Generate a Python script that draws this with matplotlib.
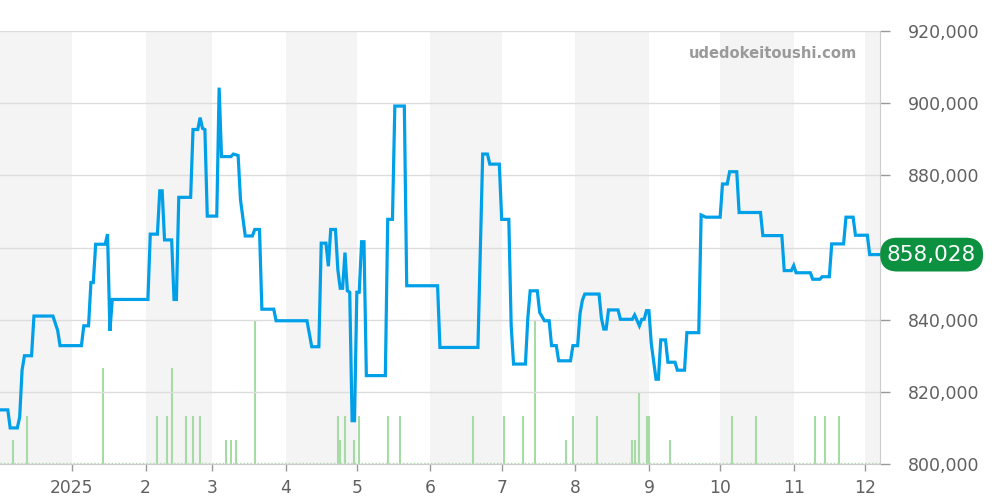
import matplotlib

matplotlib.use("Agg")
import matplotlib.pyplot as plt
import matplotlib.dates as mdates
from matplotlib.ticker import FuncFormatter
import pandas as pd

# price line vertices
price_dates = [
    "2024-12-02", "2024-12-05", "2024-12-06", "2024-12-09", "2024-12-10", "2024-12-11",
    "2024-12-12", "2024-12-15", "2024-12-16", "2024-12-24", "2024-12-26", "2024-12-27",
    "2025-01-05", "2025-01-06", "2025-01-08", "2025-01-09", "2025-01-10", "2025-01-11",
    "2025-01-15", "2025-01-16", "2025-01-17", "2025-01-18", "2025-02-02", "2025-02-03",
    "2025-02-06", "2025-02-07", "2025-02-08", "2025-02-09", "2025-02-12", "2025-02-13",
    "2025-02-14", "2025-02-15", "2025-02-20", "2025-02-21", "2025-02-23", "2025-02-24",
    "2025-02-25", "2025-02-26", "2025-02-27", "2025-03-03", "2025-03-04", "2025-03-05",
    "2025-03-09", "2025-03-10", "2025-03-12", "2025-03-13", "2025-03-15", "2025-03-18",
    "2025-03-19", "2025-03-21", "2025-03-22", "2025-03-27", "2025-03-28", "2025-04-10",
    "2025-04-12", "2025-04-15", "2025-04-16", "2025-04-18", "2025-04-19", "2025-04-20",
    "2025-04-22", "2025-04-23", "2025-04-24", "2025-04-25", "2025-04-26", "2025-04-27",
    "2025-04-28", "2025-04-29", "2025-04-30", "2025-05-01", "2025-05-02", "2025-05-03",
    "2025-05-04", "2025-05-05", "2025-05-13", "2025-05-14", "2025-05-16", "2025-05-17",
    "2025-05-21", "2025-05-22", "2025-06-04", "2025-06-05", "2025-06-21", "2025-06-23",
    "2025-06-25", "2025-06-26", "2025-06-30", "2025-07-01", "2025-07-04", "2025-07-05",
    "2025-07-06", "2025-07-11", "2025-07-12", "2025-07-13", "2025-07-16", "2025-07-17",
    "2025-07-19", "2025-07-21", "2025-07-22", "2025-07-24", "2025-07-25", "2025-07-30",
    "2025-07-31", "2025-08-02", "2025-08-03", "2025-08-04", "2025-08-05", "2025-08-11",
    "2025-08-12", "2025-08-13", "2025-08-14", "2025-08-15", "2025-08-19", "2025-08-20",
    "2025-08-25", "2025-08-26", "2025-08-28", "2025-08-29", "2025-08-30", "2025-08-31",
    "2025-09-01", "2025-09-02", "2025-09-04", "2025-09-05", "2025-09-06", "2025-09-08",
    "2025-09-09", "2025-09-12", "2025-09-13", "2025-09-16", "2025-09-17", "2025-09-22",
    "2025-09-23", "2025-09-25", "2025-10-01", "2025-10-02", "2025-10-04", "2025-10-05",
    "2025-10-08", "2025-10-09", "2025-10-18", "2025-10-19", "2025-10-27", "2025-10-28",
    "2025-10-31", "2025-11-01", "2025-11-02", "2025-11-08", "2025-11-09", "2025-11-12",
    "2025-11-13", "2025-11-16", "2025-11-17", "2025-11-22", "2025-11-23", "2025-11-26",
    "2025-11-27", "2025-12-02", "2025-12-03", "2025-12-07",
]
price_values = [
    815000, 815000, 810000, 810000, 813000, 826000,
    830000, 830000, 841000, 841000, 837000, 832800,
    832800, 838300, 838300, 850300, 850300, 860900,
    860900, 863700, 836900, 845600, 845600, 863700,
    863700, 875700, 875700, 862100, 862100, 845600,
    845600, 873900, 873900, 892700, 892700, 896000,
    893000, 892700, 868700, 868700, 904300, 885200,
    885200, 885900, 885500, 873200, 863200, 863200,
    865000, 865000, 842900, 842900, 839700, 839700,
    832500, 832500, 861200, 861200, 854800, 865000,
    865000, 853800, 848700, 848700, 858600, 848000,
    847600, 812000, 812000, 847600, 847600, 861600,
    861600, 824500, 824500, 867800, 867800, 899200,
    899200, 849400, 849400, 832300, 832300, 885900,
    885900, 883100, 883100, 867800, 867800, 838300,
    827700, 827700, 840400, 848000, 848000, 842000,
    839700, 839700, 832800, 832800, 828600, 828600,
    832800, 832800, 841700, 845400, 847100, 847100,
    840400, 837400, 837400, 842700, 842700, 840100,
    840100, 841300, 838300, 840100, 840100, 842500,
    842500, 833400, 823500, 823500, 834400, 834400,
    828200, 828200, 826000, 826000, 836400, 836400,
    869000, 868400, 868400, 877600, 877600, 881000,
    881000, 869700, 869700, 863300, 863300, 853600,
    853600, 855000, 853000, 853000, 851200, 851200,
    851900, 851900, 861000, 861000, 868400, 868400,
    863400, 863400, 858028, 858028,
]

# listing counts shown as thin green bars
volume_dates = [
    "2024-12-07", "2024-12-13", "2025-01-14", "2025-02-06", "2025-02-10", "2025-02-12",
    "2025-02-18", "2025-02-21", "2025-02-24", "2025-03-07", "2025-03-09", "2025-03-11",
    "2025-03-19", "2025-04-23", "2025-04-24", "2025-04-26", "2025-04-30", "2025-05-02",
    "2025-05-14", "2025-05-19", "2025-06-19", "2025-07-02", "2025-07-10", "2025-07-15",
    "2025-07-28", "2025-07-31", "2025-08-10", "2025-08-25", "2025-08-26", "2025-08-28",
    "2025-08-31", "2025-09-01", "2025-09-10", "2025-10-06", "2025-10-16", "2025-11-10",
    "2025-11-14", "2025-11-20",
]
volume_counts = [
    1, 2, 4, 2, 2, 4,
    2, 2, 2, 1, 1, 1,
    6, 2, 1, 2, 1, 2,
    2, 2, 2, 2, 2, 6,
    1, 2, 2, 1, 1, 3,
    2, 2, 1, 2, 2, 2,
    2, 2,
]

y_ticks = [800000, 820000, 840000, 860000, 880000, 900000, 920000]
last_price = 858028

LINE_BLUE = "#00a0e9"
BAR_GREEN = "#a6dba6"
BADGE_GREEN = "#0b9140"
TEXT_GRAY = "#606060"

price_x = pd.to_datetime(price_dates)
volume_x = pd.to_datetime(volume_dates)
month_starts = pd.date_range("2024-12-01", "2026-01-01", freq="MS")
x_start = pd.Timestamp("2024-12-01 17:00")
x_end = pd.Timestamp("2025-12-07 08:00")

fig = plt.figure(figsize=(10, 5), dpi=100)
vol_ax = fig.add_axes([0.0, 0.072, 0.88, 0.866])
ax = vol_ax.twinx()

# alternating month background bands
for i in range(len(month_starts) - 1):
    if i % 2 == 0:
        vol_ax.axvspan(month_starts[i], month_starts[i + 1], color="#f4f4f4", lw=0, zorder=0)

vol_ax.vlines(volume_x, 0, volume_counts, color=BAR_GREEN, lw=1.5, zorder=2)
vol_ax.axhline(0.05, color=BAR_GREEN, lw=1.0, ls=(0, (1, 1.5)), zorder=2)
vol_ax.set_ylim(0, 18)
vol_ax.set_yticks([])
for side in vol_ax.spines:
    vol_ax.spines[side].set_visible(False)

ax.set_zorder(vol_ax.get_zorder() + 1)
ax.patch.set_visible(False)
ax.plot(price_x, price_values, color=LINE_BLUE, lw=2.3, solid_joinstyle="miter", zorder=3)
ax.set_ylim(800000, 920000)
ax.set_xlim(x_start, x_end)
vol_ax.set_xlim(x_start, x_end)


def price_label(v, _):
    # the last-price badge sits over the 860,000 label
    if abs(v - last_price) < 5000:
        return ""
    return f"{int(v):,}"


ax.set_yticks(y_ticks)
ax.yaxis.set_major_formatter(FuncFormatter(price_label))
ax.grid(axis="y", color="#dddddd", lw=1.0, zorder=1)
ax.tick_params(axis="y", which="both", right=True, left=False, length=7, width=1,
               color="#999999", labelcolor=TEXT_GRAY, labelsize=12.5, pad=13)

tick_months = pd.date_range("2025-01-01", "2025-12-01", freq="MS")
vol_ax.set_xticks(tick_months)
vol_ax.set_xticklabels(["2025" if d.month == 1 else str(d.month) for d in tick_months])
vol_ax.tick_params(axis="x", length=5, width=1, color="#999999", labelcolor=TEXT_GRAY,
                   labelsize=12.3, pad=6)
ax.tick_params(axis="x", bottom=False, labelbottom=False)

for side in ["top", "left"]:
    ax.spines[side].set_visible(False)
ax.spines["right"].set_color("#cccccc")
ax.spines["bottom"].set_color("#cccccc")

ax.annotate(
    f"{last_price:,}",
    xy=(1.0, last_price),
    xycoords=ax.get_yaxis_transform(),
    xytext=(7, 0),
    textcoords="offset pixels",
    ha="left",
    va="center",
    color="white",
    fontsize=15.5,
    bbox=dict(boxstyle="round,pad=0.32,rounding_size=0.8", fc=BADGE_GREEN, ec="none"),
    annotation_clip=False,
    zorder=5,
)

fig.text(0.857, 0.894, "udedokeitoushi.com", ha="right", va="center",
         fontsize=10.6, fontweight="bold", color="#9a9a9a")

fig.savefig("out.png", dpi=100)
